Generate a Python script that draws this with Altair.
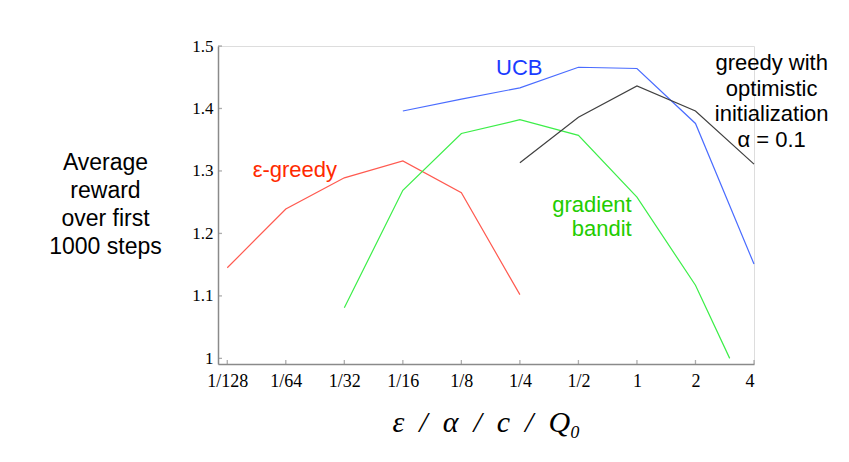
import altair as alt
import pandas as pd

# ---- data ----
params = [1/128, 1/64, 1/32, 1/16, 1/8, 1/4, 1/2, 1, 2, 4]
y_ticks = [1.0, 1.1, 1.2, 1.3, 1.4, 1.5]

eps_x = [1/128, 1/64, 1/32, 1/16, 1/8, 1/4]
eps_y = [1.145, 1.239, 1.289, 1.316, 1.265, 1.102]

grad_x = [1/32, 1/16, 1/8, 1/4, 1/2, 1, 2, 3]
grad_y = [1.081, 1.269, 1.360, 1.382, 1.357, 1.258, 1.117, 1.0]

ucb_x = [1/16, 1/8, 1/4, 1/2, 1, 2, 4]
ucb_y = [1.396, 1.415, 1.433, 1.466, 1.464, 1.376, 1.151]

opt_x = [1/4, 1/2, 1, 2, 4]
opt_y = [1.313, 1.386, 1.436, 1.396, 1.311]

series_names = ["eps", "grad", "ucb", "opt"]
series_colors = ["#ff5a50", "#3cee48", "#4a6cff", "#404040"]

rows = []
for name, xs, ys in [("eps", eps_x, eps_y), ("grad", grad_x, grad_y),
                     ("ucb", ucb_x, ucb_y), ("opt", opt_x, opt_y)]:
    for xv, yv in zip(xs, ys):
        rows.append({"series": name, "param": xv, "reward": yv})
df = pd.DataFrame(rows)

x_domain = [0.0070, 4]
y_domain = [0.991, 1.5]

xscale = alt.Scale(type="log", base=2, domain=x_domain, nice=False)
yscale = alt.Scale(domain=y_domain, nice=False, zero=False)

AXIS_GRAY = "#8a8a8a"
SP = "\u2002"

lines = alt.Chart(df).mark_line(strokeWidth=1.2).encode(
    x=alt.X("param:Q", scale=xscale,
            axis=alt.Axis(values=params,
                          labelExpr="datum.value >= 1 ? format(datum.value, 'd') : '1/' + format(1/datum.value, 'd')",
                          ticks=False, tickSize=0, grid=False,
                          domainColor=AXIS_GRAY, domainWidth=1.5,
                          labelFont="Liberation Serif", labelFontSize=18,
                          labelColor="black", labelPadding=8,
                          labelAngle=0,
                          title=f"ε{SP}/{SP}α{SP}/{SP}c{SP}/{SP}Q₀",
                          titleFont="Liberation Serif", titleFontStyle="italic",
                          titleFontWeight="normal", titleFontSize=30,
                          titleColor="black", titleBaseline="alphabetic",
                          titleX=268, titleY=67, titleAlign="center")),
    y=alt.Y("reward:Q", scale=yscale,
            axis=alt.Axis(values=y_ticks,
                          labelExpr="datum.value == 1 ? '1' : format(datum.value, '.1f')",
                          ticks=False, tickSize=0, grid=False,
                          domainColor=AXIS_GRAY, domainWidth=1.5,
                          labelFont="Liberation Serif", labelFontSize=17,
                          labelColor="black", labelPadding=5,
                          title=["Average", "reward", "over first", "1000 steps"],
                          titleFont="Liberation Sans", titleFontWeight="normal",
                          titleFontSize=23, titleColor="black",
                          titleAngle=0, titleAlign="center",
                          titleBaseline="alphabetic", titleLineHeight=28,
                          titleX=-113, titleY=123)),
    color=alt.Color("series:N", scale=alt.Scale(domain=series_names, range=series_colors),
                    legend=None),
    detail="series:N",
)

# inward tick marks
xt = pd.DataFrame({"param": params, "reward": [y_domain[0]] * len(params)})
x_ticks = alt.Chart(xt).mark_tick(orient="vertical", size=4, thickness=1.3,
                                  color=AXIS_GRAY, yOffset=-2).encode(
    x=alt.X("param:Q", scale=xscale), y=alt.Y("reward:Q", scale=yscale))

yt = pd.DataFrame({"param": [x_domain[0]] * len(y_ticks), "reward": y_ticks})
y_tick_marks = alt.Chart(yt).mark_tick(orient="horizontal", size=4, thickness=1.3,
                                       color=AXIS_GRAY, xOffset=2).encode(
    x=alt.X("param:Q", scale=xscale), y=alt.Y("reward:Q", scale=yscale))

# annotation labels
label_text = [["ε-greedy"], ["UCB"], ["greedy with", "optimistic", "initialization", "α = 0.1"],
              ["gradient", "bandit"]]
label_x = [0.0174, 0.248, 4.93, 0.94]
label_y = [1.2904, 1.454, 1.461, 1.2344]
label_colors = ["#ff2a00", "#1a3cff", "#000000", "#22cc00"]
label_align = ["center", "center", "center", "right"]
label_lh = [24, 24, 25.5, 24]

texts = []
for t, lx, ly, c, a, lh in zip(label_text, label_x, label_y, label_colors, label_align, label_lh):
    d = pd.DataFrame({"param": [lx], "reward": [ly]})
    texts.append(alt.Chart(d).mark_text(
        text=t if len(t) > 1 else t[0], color=c, align=a, baseline="alphabetic",
        font="Liberation Sans", fontSize=22, lineHeight=lh).encode(
        x=alt.X("param:Q", scale=xscale), y=alt.Y("reward:Q", scale=yscale)))

chart = alt.layer(lines, x_ticks, y_tick_marks, *texts).properties(
    width=536, height=318,
    autosize=alt.AutoSizeParams(type="none"),
    padding={"left": 218, "top": 46, "right": 95, "bottom": 98},
).configure_view(stroke=None).configure(background="white")

chart.save("out.html", embed_options={"renderer": "svg", "actions": False})
